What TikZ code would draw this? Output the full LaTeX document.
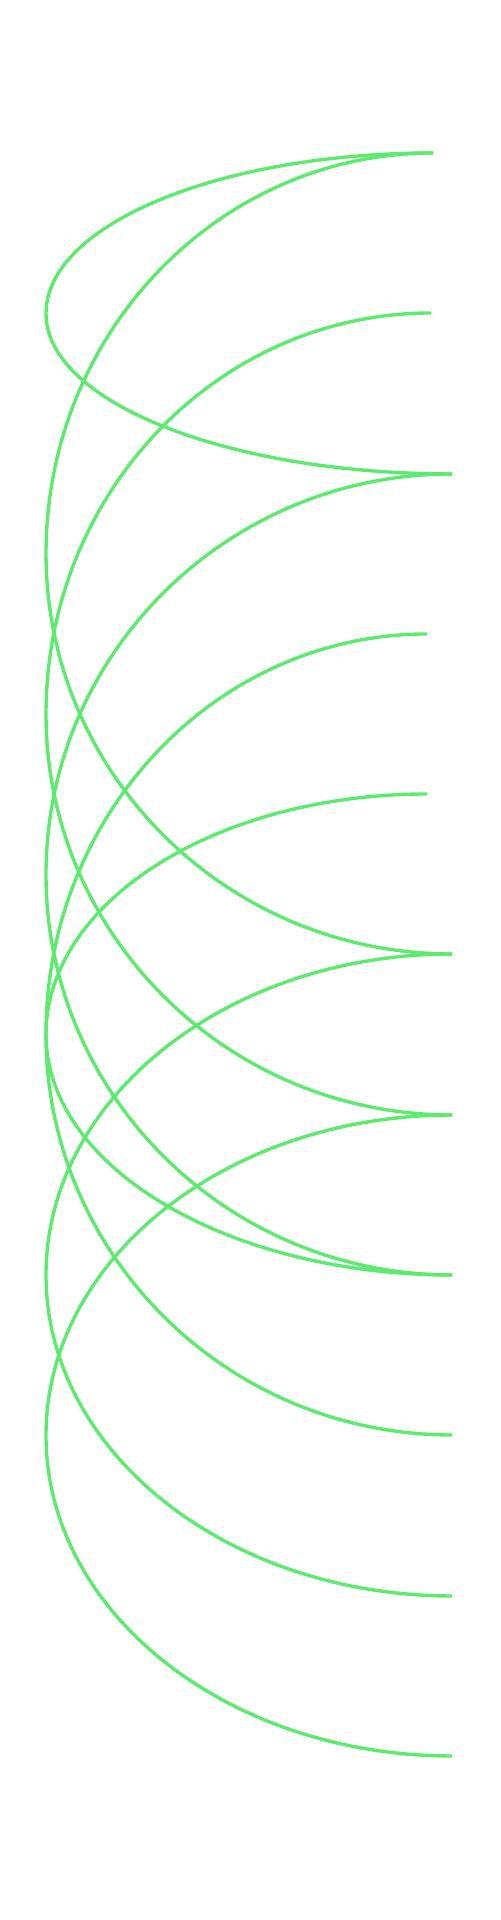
\documentclass[tikz,border=0pt]{standalone}
\usetikzlibrary{calc}
\definecolor{arcgreen}{RGB}{92,235,110}

\begin{document}
\begin{tikzpicture}[x=0.5pt,y=0.5pt,
  halfarc/.style={to path={let \p1=(\tikztostart), \p2=(\tikztotarget), \n1={(\y1-\y2)/2} in
    arc[start angle=90,end angle=180,x radius=\x1-23pt,y radius=\n1*1pt]
    arc[start angle=180,end angle=270,x radius=\x2-23pt,y radius=\n1*1pt]}}]
\useasboundingbox (0,0) rectangle (500,1920);
\node[coordinate] (0) at (433,1767) {};
\node[coordinate] (1) at (431,1607) {};
\node[coordinate] (2) at (452,1446) {};
\node[coordinate] (3) at (427,1286) {};
\node[coordinate] (4) at (427,1126) {};
\node[coordinate] (5) at (452,966) {};
\node[coordinate] (6) at (452,805) {};
\node[coordinate] (7) at (452,645) {};
\node[coordinate] (8) at (452,485) {};
\node[coordinate] (9) at (452,324) {};
\node[coordinate] (10) at (452,164) {};

\path [draw=arcgreen,line width=1.7pt] (0) edge[halfarc] (2);
\path [draw=arcgreen,line width=1.7pt] (0) edge[halfarc] (5);
\path [draw=arcgreen,line width=1.7pt] (1) edge[halfarc] (6);
\path [draw=arcgreen,line width=1.7pt] (2) edge[halfarc] (7);
\path [draw=arcgreen,line width=1.7pt] (3) edge[halfarc] (8);
\path [draw=arcgreen,line width=1.7pt] (4) edge[halfarc] (7);
\path [draw=arcgreen,line width=1.7pt] (5) edge[halfarc] (9);
\path [draw=arcgreen,line width=1.7pt] (6) edge[halfarc] (10);
\end{tikzpicture}
\end{document}
